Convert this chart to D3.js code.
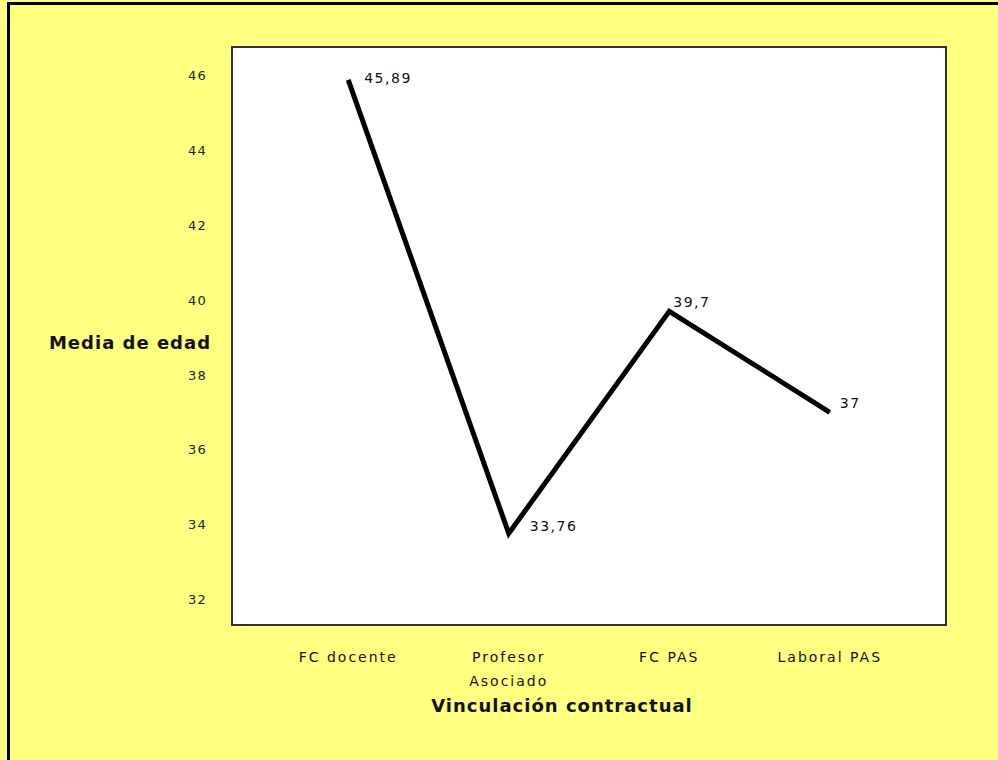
<!DOCTYPE html>
<html>
<head>
<meta charset="utf-8">
<script src="https://cdn.jsdelivr.net/npm/d3@7"></script>
<style>
  html, body { margin: 0; padding: 0; background: #ffff80; }
  svg { display: block; }
</style>
</head>
<body>
<script>
// Mean age by contractual relationship
const categories = [["FC docente"], ["Profesor", "Asociado"], ["FC PAS"], ["Laboral PAS"]];
const categoryKeys = ["FC docente", "Profesor Asociado", "FC PAS", "Laboral PAS"];
const meanAge = [45.89, 33.76, 39.7, 37];
const valueLabels = ["45,89", "33,76", "39,7", "37"];
const yTicks = [32, 34, 36, 38, 40, 42, 44, 46];

const W = 998, H = 760;
const plot = { left: 232, top: 47, right: 946, bottom: 625 };
const FONT = "DejaVu Sans, sans-serif";

const svg = d3.select("body").append("svg").attr("width", W).attr("height", H);

svg.append("rect").attr("width", W).attr("height", H).attr("fill", "#ffff80");
// frame on the top and left edges
svg.append("path").attr("d", `M8.5,${H} V3.5 H${W}`)
  .attr("fill", "none").attr("stroke", "#000").attr("stroke-width", 3);

const x = d3.scalePoint().domain(categoryKeys)
  .range([plot.left, plot.right]).padding(0.724);
const y = d3.scaleLinear().domain([31.31, 46.77]).range([plot.bottom, plot.top]);

svg.append("rect")
  .attr("x", plot.left).attr("y", plot.top)
  .attr("width", plot.right - plot.left).attr("height", plot.bottom - plot.top)
  .attr("fill", "#fff").attr("stroke", "#333").attr("stroke-width", 2);

// y axis labels only (no tick marks or domain line)
const yAxis = svg.append("g").attr("transform", `translate(${plot.left},0)`)
  .call(d3.axisLeft(y).tickValues(yTicks).tickSize(0).tickPadding(25).tickFormat(d3.format("d")));
yAxis.select(".domain").remove();
yAxis.selectAll("text").attr("font-family", FONT)
  .attr("font-size", 13).attr("fill", "#222").attr("letter-spacing", 1.2);

// x category labels (multi-line)
const xl = svg.append("g");
categoryKeys.forEach((k, i) => {
  const t = xl.append("text").attr("x", x(k)).attr("y", 662)
    .attr("text-anchor", "middle")
    .attr("font-family", FONT).attr("font-size", 14)
    .attr("letter-spacing", 2).attr("fill", "#111");
  categories[i].forEach((line, j) => {
    t.append("tspan").attr("x", x(k)).attr("dy", j === 0 ? 0 : 24).text(line);
  });
});

// axis titles
svg.append("text").attr("x", 130).attr("y", 349).attr("text-anchor", "middle")
  .attr("font-family", FONT).attr("font-weight", "bold").attr("letter-spacing", 1)
  .attr("font-size", 18).attr("fill", "#111").text("Media de edad");
svg.append("text").attr("x", 562).attr("y", 712).attr("text-anchor", "middle")
  .attr("font-family", FONT).attr("font-weight", "bold").attr("letter-spacing", 1)
  .attr("font-size", 18).attr("fill", "#111").text("Vinculación contractual");

// the line
const line = d3.line().x((d, i) => x(categoryKeys[i])).y(d => y(d));
svg.append("path").datum(meanAge).attr("d", line)
  .attr("fill", "none").attr("stroke", "#000").attr("stroke-width", 5)
  .attr("stroke-linejoin", "miter");

// value labels
const offsets = [[16, 3], [21, -2], [4, -4], [10, -4]];
svg.append("g").selectAll("text").data(meanAge).join("text")
  .attr("x", (d, i) => x(categoryKeys[i]) + offsets[i][0])
  .attr("y", (d, i) => y(d) + offsets[i][1])
  .attr("font-family", FONT).attr("font-size", 14)
  .attr("letter-spacing", 1.5).attr("fill", "#111")
  .text((d, i) => valueLabels[i]);
</script>
</body>
</html>
